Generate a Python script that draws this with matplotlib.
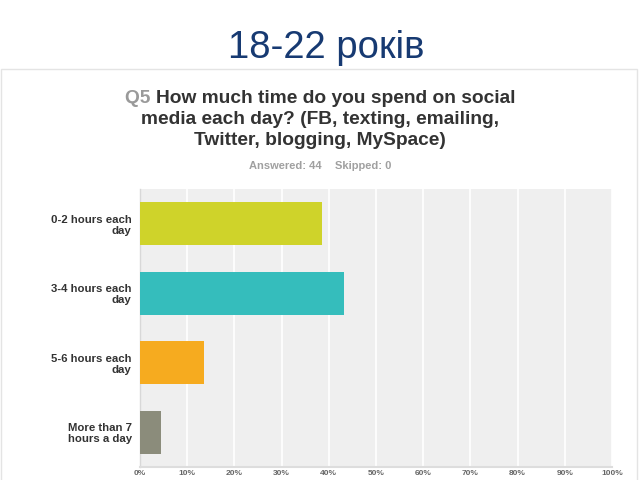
import matplotlib
matplotlib.use("Agg")
import matplotlib.pyplot as plt
from matplotlib.patches import Rectangle

categories = ["0-2 hours each\nday", "3-4 hours each\nday", "5-6 hours each\nday", "More than 7\nhours a day"]
values = [38.64, 43.18, 13.64, 4.55]
colors = ["#cfd32a", "#35bdbc", "#f6ab1f", "#8b8c7b"]
tick_labels = ["0%", "10%", "20%", "30%", "40%", "50%", "60%", "70%", "80%", "90%", "100%"]
title = "18-22 років"
q_prefix = "Q5"
q_lines = ["How much time do you spend on social",
           "media each day? (FB, texting, emailing,",
           "Twitter, blogging, MySpace)"]
answered = "Answered: 44"
skipped = "Skipped: 0"

plt.rcParams['font.family'] = ['Liberation Sans', 'DejaVu Sans']

fig = plt.figure(figsize=(6.4, 4.8), dpi=100)
W, H = 640, 480

def fx(px):
    return px / W

def fy(py):
    return 1 - py / H

# card with light border/shadow
fig.patches.append(Rectangle((fx(2), fy(482)), fx(637) - fx(2), fy(70) - fy(482),
                             transform=fig.transFigure, facecolor="#f2f2f2",
                             edgecolor="none", zorder=-2))
fig.patches.append(Rectangle((fx(1), fy(482)), fx(637) - fx(1), fy(69) - fy(482),
                             transform=fig.transFigure, facecolor="white",
                             edgecolor="#e4e4e4", linewidth=1.0, zorder=-1))

fig.text(fx(326), fy(58), title, ha="center", va="baseline", fontsize=27.5,
         color="#173a72")

# question text
fig.canvas.draw()
renderer = fig.canvas.get_renderer()
qfs = 13.8
base_y = [103, 124, 145]
t_pre = fig.text(0, 0, q_prefix + " ", fontsize=qfs, fontweight="bold", color="#9a9a9a")
t_rest = fig.text(0, 0, q_lines[0], fontsize=qfs, fontweight="bold", color="#333333")
w_pre = t_pre.get_window_extent(renderer).width
w_rest = t_rest.get_window_extent(renderer).width
total = w_pre + w_rest
x0 = 320 - total / 2
t_pre.set_position((fx(x0), fy(base_y[0])))
t_pre.set_va("baseline")
t_rest.set_position((fx(x0 + w_pre), fy(base_y[0])))
t_rest.set_va("baseline")
for line, by in zip(q_lines[1:], base_y[1:]):
    fig.text(fx(320), fy(by), line, ha="center", va="baseline", fontsize=qfs,
             fontweight="bold", color="#333333")

fig.text(fx(322), fy(169), answered, ha="right", va="baseline", fontsize=8,
         fontweight="bold", color="#a0a0a0")
fig.text(fx(335), fy(169), skipped, ha="left", va="baseline", fontsize=8,
         fontweight="bold", color="#a0a0a0")

ax = fig.add_axes([fx(140), fy(467), fx(612) - fx(140), fy(189) - fy(467)])
ax.set_zorder(1)
ax.set_facecolor("#efefef")
y = list(range(len(categories)))
ax.barh(y, values, height=0.62, color=colors, zorder=3)
ax.set_xlim(0, 100)
ax.set_ylim(len(categories) - 0.5, -0.5)
ax.set_xticks(range(0, 101, 10))
ax.set_xticklabels(tick_labels)
ax.set_yticks(y)
ax.set_yticklabels(categories)
ax.grid(axis="x", color="white", linewidth=1.2, zorder=1)
ax.set_axisbelow(True)
ax.tick_params(axis="both", length=0)
ax.tick_params(axis="y", pad=6, labelsize=8.2, labelcolor="#333333")
ax.tick_params(axis="x", pad=2.5, labelsize=6, labelcolor="#666666")
for lbl in ax.get_yticklabels():
    lbl.set_fontweight("bold")
    lbl.set_linespacing(1.15)
for lbl in ax.get_xticklabels():
    lbl.set_fontweight("bold")
for s in ["top", "right"]:
    ax.spines[s].set_visible(False)
ax.spines["left"].set_color("#d8d8d8")
ax.spines["bottom"].set_color("#dddddd")
ax.spines["left"].set_linewidth(1.0)
ax.spines["bottom"].set_linewidth(1.5)

fig.savefig("out.png", dpi=100)
